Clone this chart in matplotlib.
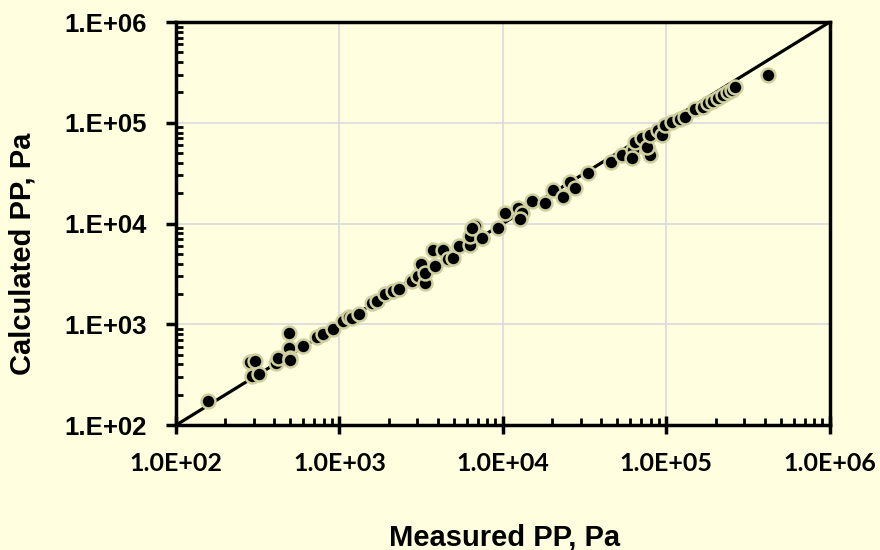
import matplotlib
matplotlib.use('Agg')
import matplotlib.pyplot as plt
import numpy as np
from matplotlib.ticker import LogLocator, FuncFormatter, NullFormatter

# Measured vs calculated pore pressure (Pa)
measured = [157, 283, 304, 292, 322, 409, 421, 491, 491, 495, 500, 598, 728, 792, 913,
            1050, 1143, 1192, 1315, 1580, 1695, 1900, 2125, 2310, 2775, 3020, 3330, 3150,
            3330, 3730, 3840, 4300, 4610, 4950, 5380, 6280, 6280, 6750, 7440, 6460, 7500,
            9320, 10290, 12350, 13060, 12700, 15040, 18070, 20220, 23280, 25700, 27550,
            33100, 45800, 53500, 62400, 61700, 64200, 70800, 77100, 79300, 76000, 79300,
            88700, 94400, 97900, 108000, 121000, 130000, 149000, 167000, 179000, 192000,
            206000, 222000, 238000, 252000, 263000, 418000]
calculated = [173, 424, 430, 307, 322, 414, 464, 823, 584, 464, 440, 611, 751, 800, 902,
              1084, 1190, 1160, 1270, 1640, 1715, 2010, 2150, 2260, 2710, 3040, 2590, 4000,
              3250, 5510, 3820, 5500, 4490, 4600, 6040, 6100, 7600, 9550, 7260, 9100, 7260,
              9120, 12860, 14430, 12860, 11200, 16940, 16180, 21300, 18150, 25600, 22300,
              32100, 40500, 47500, 53200, 44400, 64000, 70100, 53200, 47500, 58000, 75500,
              84200, 75100, 94400, 101000, 108000, 114000, 136000, 143000, 156000, 164000,
              175000, 188000, 201000, 210000, 225000, 297000]
line_range = [1e2, 1e6]

bg = '#FFFFE0'
arial = ['Liberation Sans', 'DejaVu Sans']
calibri = ['Lato', 'DejaVu Sans']

fig = plt.figure(figsize=(8.8, 5.5), dpi=100, facecolor=bg)
ax = fig.add_axes([0.2, 0.227, 0.743, 0.733])
ax.set_facecolor(bg)

ax.plot(line_range, line_range, color='black', linewidth=2.3, zorder=2)
ax.plot(measured, calculated, 'o', markersize=10, markerfacecolor='black',
        markeredgecolor='#CFCF9F', markeredgewidth=1.8, zorder=3)

ax.set_xscale('log')
ax.set_yscale('log')
ax.set_xlim(1e2, 1e6)
ax.set_ylim(1e2, 1e6)

ax.grid(True, which='major', color='#D9D9E0', linewidth=1.2, zorder=0)
ax.set_axisbelow(True)

for s in ax.spines.values():
    s.set_linewidth(2.5)
    s.set_color('black')

ax.xaxis.set_major_locator(LogLocator(base=10, numticks=10))
ax.yaxis.set_major_locator(LogLocator(base=10, numticks=10))
ax.xaxis.set_minor_locator(LogLocator(base=10, subs=np.arange(2, 10), numticks=20))
ax.yaxis.set_minor_locator(LogLocator(base=10, subs=np.arange(2, 10), numticks=20))
ax.xaxis.set_minor_formatter(NullFormatter())
ax.yaxis.set_minor_formatter(NullFormatter())
ax.xaxis.set_major_formatter(FuncFormatter(lambda v, p: '1.0E+%02d' % int(round(np.log10(v)))))
ax.yaxis.set_major_formatter(FuncFormatter(lambda v, p: '1.E+%02d' % int(round(np.log10(v)))))

ax.tick_params(which='minor', direction='in', length=5, width=2)
ax.tick_params(axis='x', which='major', direction='inout', length=13, width=2.5, pad=13)
ax.tick_params(axis='y', which='major', direction='out', length=7, width=2.5, pad=14)

for lab in ax.get_xticklabels():
    lab.set_family(calibri)
    lab.set_fontweight('bold')
    lab.set_fontsize(18)
for lab in ax.get_yticklabels():
    lab.set_family(arial)
    lab.set_fontweight('bold')
    lab.set_fontsize(18.5)

fig.text(505 / 880, 1 - 537 / 550, 'Measured PP, Pa', fontsize=21, fontweight='bold',
         family=arial, ha='center', va='center')
fig.text(23 / 880, 1 - 254 / 550, 'Calculated PP, Pa', fontsize=21, fontweight='bold',
         family=arial, ha='center', va='center', rotation=90)

fig.savefig('out.png', dpi=100, facecolor=bg)
